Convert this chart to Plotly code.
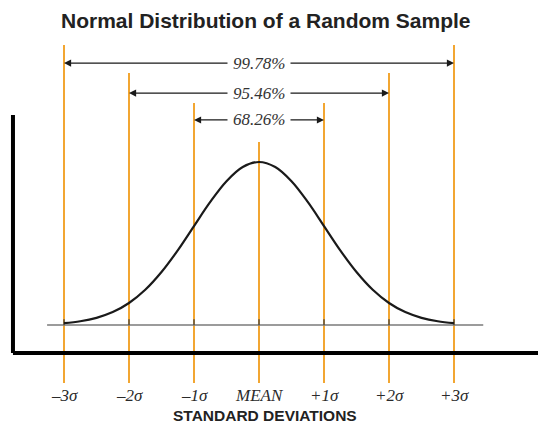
import plotly.graph_objects as go

# ---------------- data ----------------
sigma = [-3, -2, -1, 0, 1, 2, 3]
sigma_labels = ["–3σ", "–2σ", "–1σ", "MEAN", "+1σ", "+2σ", "+3σ"]

# coverage ranges (± n sigma)
spans = [1, 2, 3]
coverage = ["68.26%", "95.46%", "99.78%"]

# bell curve, relative height every 0.25 sigma
curve_x = [-3, -2.75, -2.5, -2.25, -2, -1.75, -1.5, -1.25, -1, -0.75, -0.5, -0.25, 0,
           0.25, 0.5, 0.75, 1, 1.25, 1.5, 1.75, 2, 2.25, 2.5, 2.75, 3]
curve_y = [0.011, 0.023, 0.044, 0.079, 0.135, 0.216, 0.325, 0.458, 0.607, 0.755, 0.882, 0.969, 1.0,
           0.969, 0.882, 0.755, 0.607, 0.458, 0.325, 0.216, 0.135, 0.079, 0.044, 0.023, 0.011]

ORANGE = "#f2a632"
DARK = "#1a1a1a"
W, H = 546, 423
PAD = 8  # page body margin

# pixel geometry -> axis ranges (1 sigma = 65px, curve peak = 163px)
x0_px, sx = 259 - PAD, 65
y0_px, sy = 325 - PAD, 163
xr = [(0 - x0_px) / sx, (W - x0_px) / sx]
yr = [(y0_px - H) / sy, y0_px / sy]

fig = go.Figure()

# orange sigma lines, taller the further out
top_of = {0: 1.123, 1: 1.362, 2: 1.546, 3: 1.718}
lx, ly = [], []
for s in sigma:
    lx += [s, s, None]
    ly += [-0.356, top_of[abs(s)], None]
fig.add_trace(go.Scatter(x=lx, y=ly, mode="lines",
                         line=dict(color=ORANGE, width=2), hoverinfo="skip"))

# baseline
fig.add_trace(go.Scatter(x=[-3.26, 3.45], y=[0, 0], mode="lines",
                         line=dict(color="#7a7a7a", width=1.5), hoverinfo="skip"))
# small ticks on baseline
tx, ty = [], []
for s in sigma:
    tx += [s, s, None]
    ty += [0, 0.035, None]
fig.add_trace(go.Scatter(x=tx, y=ty, mode="lines",
                         line=dict(color="#444", width=1.3), hoverinfo="skip"))

# the curve
fig.add_trace(go.Scatter(x=curve_x, y=curve_y, mode="lines", line_shape="spline",
                         line=dict(color=DARK, width=2.2), hoverinfo="skip"))

# L-shaped frame
fig.add_shape(type="line", x0=-3.785, x1=-3.785, y0=1.288, y1=-0.172,
              line=dict(color="black", width=4), layer="above")
fig.add_shape(type="line", x0=-3.785, x1=xr[1] + 0.2, y0=-0.172, y1=-0.172,
              line=dict(color="black", width=4), layer="above")

# coverage arrows with labels
arrow_y = {1: 1.258, 2: 1.423, 3: 1.607}
for n, txt in zip(spans, coverage):
    yy = arrow_y[n]
    for side in (-1, 1):
        fig.add_annotation(x=side * n, y=yy, ax=0, ay=yy, axref="x", ayref="y",
                           xref="x", yref="y", text="", showarrow=True,
                           arrowhead=2, arrowsize=1.1, arrowwidth=1.3,
                           arrowcolor=DARK, standoff=0)
    fig.add_annotation(x=0, y=yy, xref="x", yref="y", text=txt, showarrow=False,
                       bgcolor="white", borderpad=5,
                       font=dict(family="Liberation Serif", size=17, color="#333",
                                 style="italic"))

# sigma labels
for s, lab in zip(sigma, sigma_labels):
    fig.add_annotation(x=s, y=-0.43, xref="x", yref="y", text=lab, showarrow=False,
                       font=dict(family="Liberation Serif", size=17, color="#2a2a2a",
                                 style="italic"))

fig.add_annotation(x=0.09, y=-0.555, xref="x", yref="y", text="<b>STANDARD DEVIATIONS</b>",
                   showarrow=False,
                   font=dict(family="Liberation Sans", size=15.5, color="#222"))

fig.add_annotation(x=(266 - PAD) / W, y=1 - (20 - PAD) / H, xref="paper", yref="paper",
                   yanchor="middle", xanchor="center",
                   text="<b>Normal Distribution of a Random Sample</b>", showarrow=False,
                   font=dict(family="Liberation Sans", size=21, color="#222"))

fig.update_xaxes(range=xr, visible=False, showgrid=False, zeroline=False)
fig.update_yaxes(range=yr, visible=False, showgrid=False, zeroline=False)
fig.update_layout(width=W, height=H, margin=dict(l=0, r=0, t=0, b=0),
                  plot_bgcolor="white", paper_bgcolor="white", showlegend=False)

fig.write_html("out.html")
